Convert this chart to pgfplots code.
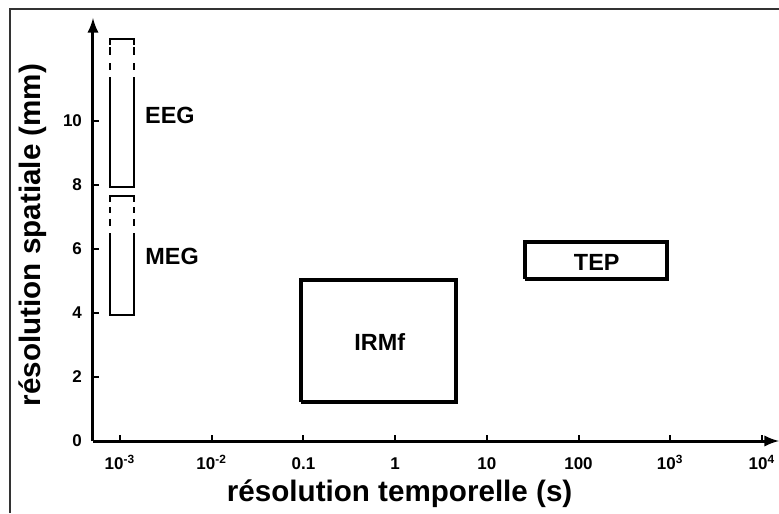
\documentclass[border=0pt]{standalone}
\usepackage{pgfplots}
\pgfplotsset{compat=1.18}
\usepackage{fontspec}
\setmainfont{Liberation Sans}

\begin{document}
\begin{tikzpicture}
  % frame of the original figure
  \draw[line width=1.3pt, black!80] (5pt,0pt) -- (5pt,252pt) -- (389.5pt,252pt);
  \begin{axis}[
    at={(46.5pt,36pt)}, anchor=south west,
    scale only axis,
    width=343pt, height=211.5pt,
    xmode=log, log basis x=10,
    xmin=5.08e-4, xmax=15350,
    ymin=0, ymax=13.22,
    axis lines=left,
    axis line style={line width=1.5pt, -latex},
    tick align=inside,
    major tick length=3pt,
    tick style={line width=1pt, black},
    xtick={1e-3,1e-2,0.1,1,10,100,1000,10000},
    xticklabels={10\textsuperscript{-3},10\textsuperscript{-2},0.1,1,10,100,10\textsuperscript{3},10\textsuperscript{4}},
    ytick={0,2,4,6,8,10},
    /pgf/number format/assume math mode=true,
    ticklabel style={font=\bfseries\fontsize{8.5}{10}\selectfont},
    xticklabel style={yshift=-4.5pt, text height=6.2pt, text depth=0pt},
    yticklabel style={xshift=-2pt},
    xlabel={résolution temporelle (s)},
    ylabel={résolution spatiale (mm)},
    label style={font=\bfseries\fontsize{14.8}{17}\selectfont},
    xlabel style={at={(axis description cs:0.447,-0.125)}, anchor=center},
    ylabel style={at={(axis description cs:-0.0875,0.487)}, anchor=center, rotate=0},
    unbounded coords=jump,
    clip=false,
  ]
    % EEG
    \addplot[black, line width=1.2pt, line join=miter] coordinates {
      (7.78e-4,12.38) (7.78e-4,12.56) (1.42e-3,12.56) (1.42e-3,12.38) (1.42e-3,nan)
      (7.78e-4,12.31) (7.78e-4,12.06) (7.78e-4,nan)
      (1.42e-3,12.31) (1.42e-3,12.06) (1.42e-3,nan)
      (7.78e-4,11.81) (7.78e-4,11.59) (7.78e-4,nan)
      (1.42e-3,11.81) (1.42e-3,11.59) (1.42e-3,nan)
      (7.78e-4,11.37) (7.78e-4,7.94) (1.42e-3,7.94) (1.42e-3,11.37)
    };
    % MEG
    \addplot[black, line width=1.2pt, line join=miter] coordinates {
      (7.78e-4,7.47) (7.78e-4,7.66) (1.42e-3,7.66) (1.42e-3,7.47) (1.42e-3,nan)
      (7.78e-4,7.31) (7.78e-4,7.12) (7.78e-4,nan)
      (1.42e-3,7.31) (1.42e-3,7.12) (1.42e-3,nan)
      (7.78e-4,6.94) (7.78e-4,6.72) (7.78e-4,nan)
      (1.42e-3,6.94) (1.42e-3,6.72) (1.42e-3,nan)
      (7.78e-4,6.50) (7.78e-4,3.94) (1.42e-3,3.94) (1.42e-3,6.50)
    };
    % IRMf
    \addplot[black, line width=1.6pt, line join=miter] coordinates {
      (0.0942,1.22) (4.61,1.22) (4.61,5.03) (0.0942,5.03) (0.0942,1.22)
    };
    % TEP
    \addplot[black, line width=1.6pt, line join=miter] coordinates {
      (26.1,5.06) (923,5.06) (923,6.22) (26.1,6.22) (26.1,5.06)
    };
    \node[font=\bfseries\fontsize{11.7}{14}\selectfont] at (axis cs:3.5e-3,10.19) {EEG};
    \node[font=\bfseries\fontsize{11.7}{14}\selectfont] at (axis cs:3.7e-3,5.78) {MEG};
    \node[font=\bfseries\fontsize{11.7}{14}\selectfont] at (axis cs:0.68,3.09) {IRMf};
    \node[font=\bfseries\fontsize{11.7}{14}\selectfont] at (axis cs:158,5.59) {TEP};
  \end{axis}
  \pgfresetboundingbox
  \useasboundingbox (0,0) rectangle (389.5pt,256.5pt);
\end{tikzpicture}
\end{document}
